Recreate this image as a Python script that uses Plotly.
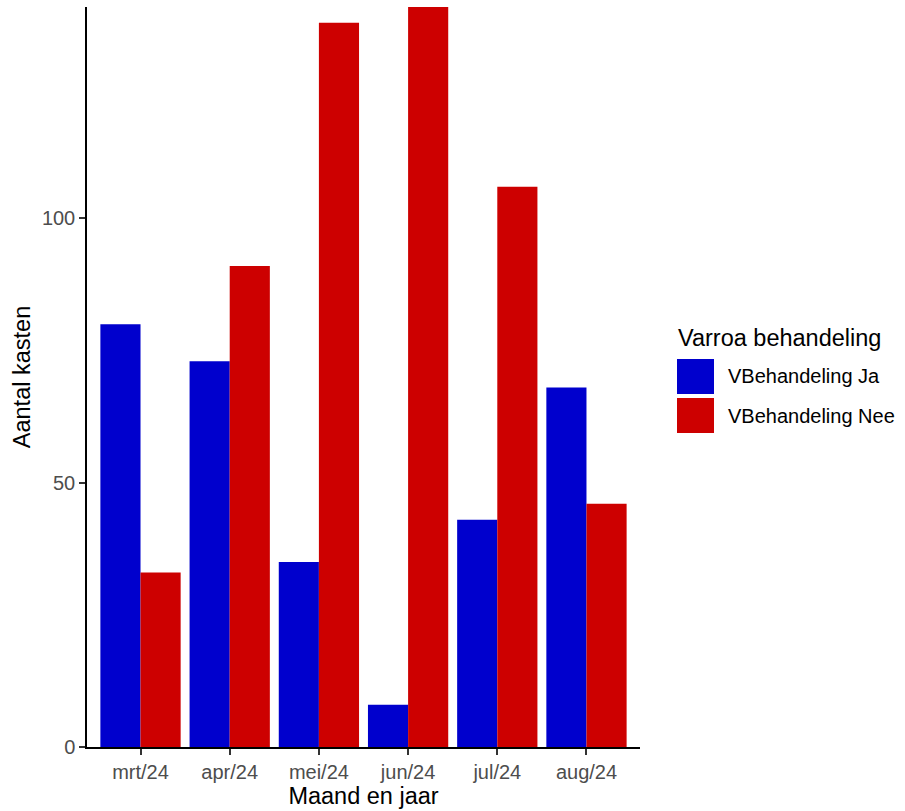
import plotly.graph_objects as go

months = ["mrt/24", "apr/24", "mei/24", "jun/24", "jul/24", "aug/24"]
series_names = ["VBehandeling Ja", "VBehandeling Nee"]
ja_values = [80, 73, 35, 8, 43, 68]
nee_values = [33, 91, 137, 140, 106, 46]
y_ticks = [0, 50, 100]
colors = ["#0000CD", "#CD0000"]

W, H = 905, 811
L, R, T, B = 87, 640, 7, 747

def px_x(px):
    return (px - L) / (R - L)

def px_y(py):
    return (B - py) / (B - T)

fig = go.Figure()
for name, vals, col in zip(series_names, [ja_values, nee_values], colors):
    fig.add_trace(go.Bar(x=months, y=vals, name=name, marker=dict(color=col, line=dict(width=0)),
                         showlegend=False, hoverinfo="skip"))

font_family = "Liberation Sans, Arial, sans-serif"

fig.update_layout(
    width=W, height=H,
    margin=dict(l=L, r=W - R, t=T, b=H - B),
    plot_bgcolor="white", paper_bgcolor="white",
    barmode="group", bargap=0.1, bargroupgap=0,
    font=dict(family=font_family, color="black"),
    xaxis=dict(
        type="category", range=[-0.6, 5.6],
        showline=True, linecolor="black", linewidth=1.5,
        ticks="outside", ticklen=6, tickwidth=1.5, tickcolor="#333333",
        tickfont=dict(size=20, color="#4D4D4D"),
        showgrid=False, zeroline=False,
        title=dict(text="Maand en jaar", font=dict(size=23.5, color="black"), standoff=6),
    ),
    yaxis=dict(
        range=[0, 140], tickvals=y_ticks,
        showline=True, linecolor="black", linewidth=1.5,
        ticks="outside", ticklen=6, tickwidth=1.5, tickcolor="#333333",
        tickfont=dict(size=20, color="#4D4D4D"),
        showgrid=False, zeroline=False,
        title=dict(text="Aantal kasten", font=dict(size=23.5, color="black"), standoff=5),
    ),
)

# Legend drawn manually to match large ggplot keys
fig.add_annotation(text="Varroa behandeling", xref="paper", yref="paper",
                   x=px_x(676), y=px_y(338), xanchor="left", yanchor="middle",
                   showarrow=False, font=dict(size=23.5, color="black"))
key_tops = [359, 398]
for name, col, top in zip(series_names, colors, key_tops):
    fig.add_shape(type="rect", xref="paper", yref="paper",
                  x0=px_x(677), x1=px_x(714), y0=px_y(top), y1=px_y(top + 35),
                  fillcolor=col, line=dict(width=0))
    fig.add_annotation(text=name, xref="paper", yref="paper",
                       x=px_x(726), y=px_y(top + 17.5), xanchor="left", yanchor="middle",
                       showarrow=False, font=dict(size=20, color="black"))

fig.write_html("out.html", config={"displayModeBar": False},
               post_script="document.body.style.margin='0';")
